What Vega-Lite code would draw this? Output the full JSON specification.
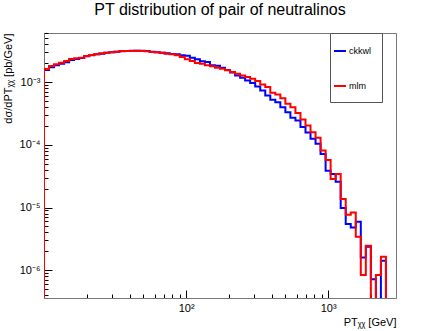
{
  "$schema": "https://vega.github.io/schema/vega-lite/v6.json",
  "autosize": {"type": "none"},
  "width": 352,
  "height": 265,
  "padding": {"left": 44, "top": 33, "right": 44, "bottom": 33},
  "background": "white",
  "config": {"font": "Liberation Sans", "view": {"stroke": "#777", "strokeWidth": 1}},
  "title": {"text": "PT distribution of pair of neutralinos", "fontSize": 16, "fontWeight": "normal", "font": "Liberation Sans", "color": "black", "anchor": "middle", "frame": "group", "offset": 15},
  "data": {"values": [
    {"seq": 0, "pt": 10, "ckkwl": 1e-9, "mlm": 1e-9},
    {"seq": 1, "pt": 10, "ckkwl": 1.573e-3, "mlm": 1.621e-3},
    {"seq": 2, "pt": 10.849, "ckkwl": 1.725e-3, "mlm": 1.810e-3},
    {"seq": 3, "pt": 11.770, "ckkwl": 1.857e-3, "mlm": 1.927e-3},
    {"seq": 4, "pt": 12.769, "ckkwl": 1.977e-3, "mlm": 2.051e-3},
    {"seq": 5, "pt": 13.853, "ckkwl": 2.074e-3, "mlm": 2.176e-3},
    {"seq": 6, "pt": 15.029, "ckkwl": 2.258e-3, "mlm": 2.342e-3},
    {"seq": 7, "pt": 16.305, "ckkwl": 2.342e-3, "mlm": 2.403e-3},
    {"seq": 8, "pt": 17.689, "ckkwl": 2.430e-3, "mlm": 2.466e-3},
    {"seq": 9, "pt": 19.191, "ckkwl": 2.587e-3, "mlm": 2.616e-3},
    {"seq": 10, "pt": 20.820, "ckkwl": 2.684e-3, "mlm": 2.714e-3},
    {"seq": 11, "pt": 22.588, "ckkwl": 2.785e-3, "mlm": 2.785e-3},
    {"seq": 12, "pt": 24.506, "ckkwl": 2.858e-3, "mlm": 2.890e-3},
    {"seq": 13, "pt": 26.586, "ckkwl": 2.943e-3, "mlm": 2.965e-3},
    {"seq": 14, "pt": 28.843, "ckkwl": 2.998e-3, "mlm": 2.998e-3},
    {"seq": 15, "pt": 31.292, "ckkwl": 3.053e-3, "mlm": 3.076e-3},
    {"seq": 16, "pt": 33.948, "ckkwl": 3.110e-3, "mlm": 3.145e-3},
    {"seq": 17, "pt": 36.830, "ckkwl": 3.145e-3, "mlm": 3.145e-3},
    {"seq": 18, "pt": 39.957, "ckkwl": 3.168e-3, "mlm": 3.145e-3},
    {"seq": 19, "pt": 43.349, "ckkwl": 3.168e-3, "mlm": 3.192e-3},
    {"seq": 20, "pt": 47.029, "ckkwl": 3.192e-3, "mlm": 3.145e-3},
    {"seq": 21, "pt": 51.022, "ckkwl": 3.145e-3, "mlm": 3.110e-3},
    {"seq": 22, "pt": 55.353, "ckkwl": 3.076e-3, "mlm": 3.031e-3},
    {"seq": 23, "pt": 60.052, "ckkwl": 2.998e-3, "mlm": 2.998e-3},
    {"seq": 24, "pt": 65.150, "ckkwl": 2.943e-3, "mlm": 2.965e-3},
    {"seq": 25, "pt": 70.681, "ckkwl": 2.890e-3, "mlm": 2.858e-3},
    {"seq": 26, "pt": 76.681, "ckkwl": 2.816e-3, "mlm": 2.785e-3},
    {"seq": 27, "pt": 83.191, "ckkwl": 2.785e-3, "mlm": 2.684e-3},
    {"seq": 28, "pt": 90.254, "ckkwl": 2.684e-3, "mlm": 2.521e-3},
    {"seq": 29, "pt": 97.916, "ckkwl": 2.635e-3, "mlm": 2.316e-3},
    {"seq": 30, "pt": 106.23, "ckkwl": 2.466e-3, "mlm": 2.176e-3},
    {"seq": 31, "pt": 115.25, "ckkwl": 2.316e-3, "mlm": 2.021e-3},
    {"seq": 32, "pt": 125.03, "ckkwl": 2.152e-3, "mlm": 1.977e-3},
    {"seq": 33, "pt": 135.64, "ckkwl": 2.097e-3, "mlm": 1.857e-3},
    {"seq": 34, "pt": 147.16, "ckkwl": 1.857e-3, "mlm": 1.790e-3},
    {"seq": 35, "pt": 159.65, "ckkwl": 1.837e-3, "mlm": 1.706e-3},
    {"seq": 36, "pt": 173.21, "ckkwl": 1.706e-3, "mlm": 1.644e-3},
    {"seq": 37, "pt": 187.91, "ckkwl": 1.573e-3, "mlm": 1.556e-3},
    {"seq": 38, "pt": 203.86, "ckkwl": 1.435e-3, "mlm": 1.461e-3},
    {"seq": 39, "pt": 221.17, "ckkwl": 1.285e-3, "mlm": 1.368e-3},
    {"seq": 40, "pt": 239.95, "ckkwl": 1.180e-3, "mlm": 1.285e-3},
    {"seq": 41, "pt": 260.32, "ckkwl": 1.069e-3, "mlm": 1.207e-3},
    {"seq": 42, "pt": 282.42, "ckkwl": 0.9674e-3, "mlm": 1.138e-3},
    {"seq": 43, "pt": 306.39, "ckkwl": 0.8567e-3, "mlm": 1.041e-3},
    {"seq": 44, "pt": 332.40, "ckkwl": 0.7394e-3, "mlm": 0.922e-3},
    {"seq": 45, "pt": 360.62, "ckkwl": 0.6149e-3, "mlm": 0.835e-3},
    {"seq": 46, "pt": 391.24, "ckkwl": 0.5248e-3, "mlm": 0.679e-3},
    {"seq": 47, "pt": 424.45, "ckkwl": 0.4803e-3, "mlm": 0.638e-3},
    {"seq": 48, "pt": 460.49, "ckkwl": 0.3995e-3, "mlm": 0.5565e-3},
    {"seq": 49, "pt": 499.58, "ckkwl": 0.3323e-3, "mlm": 0.4529e-3},
    {"seq": 50, "pt": 541.99, "ckkwl": 0.2704e-3, "mlm": 0.3995e-3},
    {"seq": 51, "pt": 588.0, "ckkwl": 0.2447e-3, "mlm": 0.3226e-3},
    {"seq": 52, "pt": 637.92, "ckkwl": 0.1927e-3, "mlm": 0.2540e-3},
    {"seq": 53, "pt": 692.07, "ckkwl": 0.1573e-3, "mlm": 0.2036e-3},
    {"seq": 54, "pt": 750.82, "ckkwl": 0.1247e-3, "mlm": 0.1591e-3},
    {"seq": 55, "pt": 814.56, "ckkwl": 0.1038e-3, "mlm": 0.1294e-3},
    {"seq": 56, "pt": 883.71, "ckkwl": 0.0718e-3, "mlm": 0.0811e-3},
    {"seq": 57, "pt": 958.73, "ckkwl": 3.88e-5, "mlm": 5.75e-5},
    {"seq": 58, "pt": 1040.1, "ckkwl": 3.436e-5, "mlm": 2.858e-5},
    {"seq": 59, "pt": 1128.4, "ckkwl": 2.587e-5, "mlm": 3.436e-5},
    {"seq": 60, "pt": 1224.2, "ckkwl": 9.82e-6, "mlm": 1.368e-5},
    {"seq": 61, "pt": 1328.2, "ckkwl": 5.45e-6, "mlm": 7.67e-6},
    {"seq": 62, "pt": 1440.9, "ckkwl": 4.80e-6, "mlm": 8.35e-6},
    {"seq": 63, "pt": 1563.2, "ckkwl": 5.93e-6, "mlm": 3.41e-6},
    {"seq": 64, "pt": 1695.9, "ckkwl": 1.591e-6, "mlm": 8.41e-7},
    {"seq": 65, "pt": 1839.9, "ckkwl": 2.36e-6, "mlm": 2.45e-6},
    {"seq": 66, "pt": 1996.1, "ckkwl": 7.18e-7, "mlm": 1e-9},
    {"seq": 67, "pt": 2165.6, "ckkwl": 1e-9, "mlm": 8.41e-7},
    {"seq": 68, "pt": 2349.4, "ckkwl": 1.409e-6, "mlm": 1.632e-6},
    {"seq": 69, "pt": 2548.9, "ckkwl": 1e-9, "mlm": 1e-9},
    {"seq": 70, "pt": 2765.2, "ckkwl": 1e-9, "mlm": 1e-9},
    {"seq": 71, "pt": 3000, "ckkwl": 1e-9, "mlm": 1e-9}
  ]},
  "transform": [{"fold": ["ckkwl", "mlm"], "as": ["series", "v"]}],
  "mark": {"type": "line", "interpolate": "step-after", "clip": true, "strokeWidth": 2},
  "encoding": {
    "x": {"field": "pt", "type": "quantitative",
      "scale": {"type": "log", "domain": [10, 3000], "nice": false},
      "axis": {"values": [20, 30, 40, 50, 60, 70, 80, 90, 100, 200, 300, 400, 500, 600, 700, 800, 900, 1000, 2000],
        "labelExpr": "datum.value == 100 ? '10²' : datum.value == 1000 ? '10³' : ''",
        "labelFontSize": 11, "labelColor": "black", "labelFlush": false, "labelPadding": 12,
        "tickColor": "black", "tickSize": {"condition": {"test": "datum.value == 100 || datum.value == 1000", "value": -8}, "value": -4},
        "domainColor": "#777", "grid": false,
        "title": "PTᵪᵪ [GeV]", "titleAnchor": "end", "titleFontSize": 11, "titleFontWeight": "normal", "titleColor": "black", "titlePadding": 3}},
    "y": {"field": "v", "type": "quantitative",
      "scale": {"type": "log", "domain": [3.6e-7, 6.1e-3], "nice": false},
      "axis": {"values": [4e-7, 5e-7, 6e-7, 7e-7, 8e-7, 9e-7, 1e-6, 2e-6, 3e-6, 4e-6, 5e-6, 6e-6, 7e-6, 8e-6, 9e-6, 1e-5, 2e-5, 3e-5, 4e-5, 5e-5, 6e-5, 7e-5, 8e-5, 9e-5, 1e-4, 2e-4, 3e-4, 4e-4, 5e-4, 6e-4, 7e-4, 8e-4, 9e-4, 1e-3, 2e-3, 3e-3, 4e-3, 5e-3, 6e-3],
        "labelExpr": "abs(log(datum.value)/LN10 - round(log(datum.value)/LN10)) < 0.001 ? (round(log(datum.value)/LN10) == -3 ? '10⁻³' : round(log(datum.value)/LN10) == -4 ? '10⁻⁴' : round(log(datum.value)/LN10) == -5 ? '10⁻⁵' : '10⁻⁶') : ''",
        "labelFontSize": 11, "labelColor": "black", "labelFlush": false, "labelPadding": 12,
        "tickColor": "black", "tickSize": {"condition": {"test": "abs(log(datum.value)/LN10 - round(log(datum.value)/LN10)) < 0.001", "value": -8}, "value": -4},
        "domainColor": "#777", "grid": false,
        "title": "dσ/dPTᵪᵪ [pb/GeV]", "titleAnchor": "end", "titleFontSize": 11, "titleFontWeight": "normal", "titleColor": "black", "titlePadding": 6}},
    "color": {"field": "series", "type": "nominal",
      "scale": {"domain": ["ckkwl", "mlm"], "range": ["#0000ff", "#ff0000"]},
      "legend": {"orient": "none", "legendX": 286, "legendY": 0, "title": null,
        "symbolType": "stroke", "symbolSize": 144, "symbolStrokeWidth": 2, "symbolOffset": -8,
        "labelFontSize": 9, "labelColor": "black", "labelOffset": 2,
        "padding": 11, "rowPadding": 23, "strokeColor": "#555", "fillColor": "white",
        "labelExpr": "datum.label + '              '"}},
    "order": {"field": "seq", "type": "quantitative"}
  }
}
